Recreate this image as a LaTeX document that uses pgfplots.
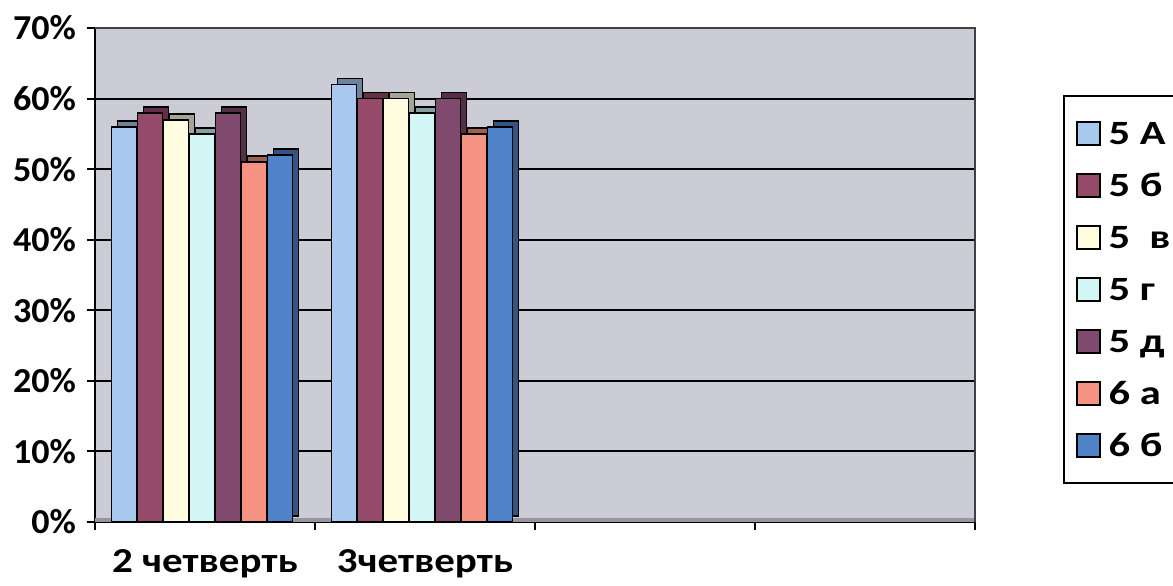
\documentclass[border=0pt]{standalone}
\usepackage{pgfplots}
\pgfplotsset{compat=1.18}
\usepackage{pgfplotstable}
\usepackage{fontspec}
\setmainfont{Carlito}
% the scanned chart is set wider than Carlito
\newfontfamily\tickfont[FakeStretch=1.03]{Carlito}
\newfontfamily\catfont[FakeStretch=1.17]{Carlito}
\newfontfamily\legfont[FakeStretch=1.25]{Carlito}

\definecolor{wall}{RGB}{204,204,214}
\definecolor{floorgray}{RGB}{150,150,162}
\definecolor{cA}{RGB}{169,200,238}
\definecolor{cB}{RGB}{150,74,106}
\definecolor{cV}{RGB}{255,252,224}
\definecolor{cG}{RGB}{210,245,245}
\definecolor{cD}{RGB}{128,74,110}
\definecolor{cE}{RGB}{245,146,130}
\definecolor{cF}{RGB}{80,130,200}

% share of pupils per class, by quarter
\pgfplotstableread{
q  a   b   v   g   d   e   f
0  56  58  57  55  58  51  52
1  62  60  60  58  60  55  56
}\grades

% one bar with a 3d-ish side: dark copy shifted, then the front face
\newcommand{\cubebar}[3]{%
  \addplot[ybar, bar width=12.5pt, bar shift=#2, fill=#1!65!black, draw=black,
    line width=0.8pt, xshift=3pt, yshift=3pt, forget plot] table[x=q, y=#3] {\grades};
  \addplot[ybar, bar width=12.5pt, bar shift=#2, fill=#1, draw=black,
    line width=0.8pt,
    legend image code/.code={\draw[fill=#1, draw=black, line width=0.8pt] (0pt,-5.75pt) rectangle (11.5pt,5.75pt);}]
    table[x=q, y=#3] {\grades};
}

\begin{document}
\begin{tikzpicture}
\path[use as bounding box] (0,0) rectangle (586.5pt,292.5pt);
\begin{axis}[
    at={(47.5pt,31.5pt)}, anchor=south west,
    scale only axis, width=440pt, height=247pt,
    xmin=-0.5, xmax=3.5, ymin=0, ymax=70,
    clip=false,
    axis background/.style={fill=wall},
    axis x line*=bottom, axis y line*=left,
    axis line style={black, line width=1.3pt},
    tick style={black, line width=1pt}, tick align=outside, major tick length=4pt,
    ytick={0,10,...,70},
    yticklabel={\pgfmathprintnumber{\tick}\%},
    yticklabel style={font=\tickfont\bfseries\fontsize{17.5}{19}\selectfont, xshift=-2pt},
    ymajorgrids, major grid style={black, line width=1pt},
    xtick={-0.5,0.5,1.5,2.5,3.5}, xticklabels={},
    extra x ticks={0,1},
    extra x tick labels={2 четверть, 3четверть},
    extra x tick style={major tick length=0pt,
      xticklabel style={yshift=-10pt, font=\catfont\bfseries\fontsize{17.5}{20}\selectfont}},
    /pgf/number format/assume math mode=true,
    legend style={at={(1.1,0.8644)}, anchor=north west, draw=black, line width=1pt,
      fill=white, font=\legfont\bfseries\fontsize{17}{19}\selectfont,
      row sep=13.7pt, inner xsep=6pt, inner ysep=12.5pt,
      nodes={anchor=west, text height=11.5pt, text depth=0pt, inner ysep=0pt, inner xsep=4pt}},
    legend cell align=left,
]
\fill[floorgray] (axis cs:-0.5,0) rectangle (axis cs:3.5,0.6);
\draw[gray!50!black, line width=0.8pt] (rel axis cs:0,1) -- (rel axis cs:1,1) -- (rel axis cs:1,0);

\cubebar{cA}{-40.5pt}{a}
\cubebar{cB}{-27.5pt}{b}
\cubebar{cV}{-14.5pt}{v}
\cubebar{cG}{-1.5pt}{g}
\cubebar{cD}{11.5pt}{d}
\cubebar{cE}{24.5pt}{e}
\cubebar{cF}{37.5pt}{f}

\legend{5 А, 5 б, 5\ \ в, 5 г, 5 д, 6 а, 6 б}
\end{axis}
\end{tikzpicture}
\end{document}
